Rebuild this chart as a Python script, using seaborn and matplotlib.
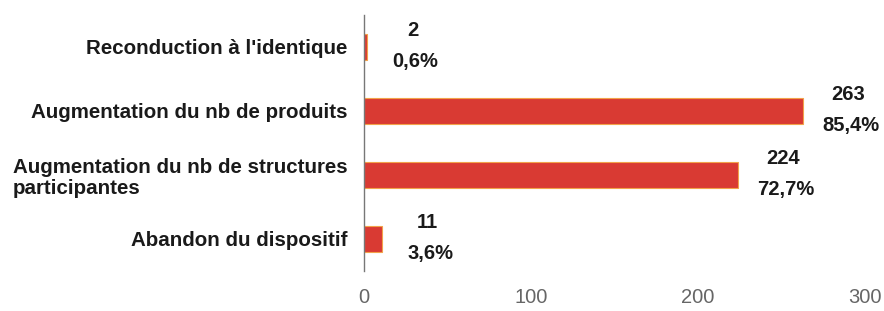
import matplotlib
matplotlib.use("Agg")
import matplotlib.pyplot as plt
import seaborn as sns
import pandas as pd

# données
categories = ["Reconduction à l'identique",
              "Augmentation du nb de produits",
              "Augmentation du nb de structures\nparticipantes",
              "Abandon du dispositif"]
valeurs = [2, 263, 224, 11]
pourcentages = ["0,6%", "85,4%", "72,7%", "3,6%"]

df = pd.DataFrame({"categorie": categories, "valeur": valeurs})

sns.set_theme(style="white")
plt.rcParams['font.family'] = ['Liberation Sans', 'DejaVu Sans']

fig = plt.figure(figsize=(8.84, 3.11), dpi=100)
ax = fig.add_axes([0.4118, 0.129, 0.567, 0.823])

sns.barplot(data=df, x="valeur", y="categorie", orient="h", ax=ax,
            color="#d93a33", edgecolor="#f2a24a", linewidth=0.8,
            width=0.4, saturation=1)

ax.set_xlim(0, 300)
ax.set_ylim(3.5, -0.5)
ax.set_xticks([0, 100, 200, 300])
ax.tick_params(axis="x", labelsize=14.5, labelcolor="#666666", length=0, pad=12)
ax.tick_params(axis="y", labelsize=14.8, length=0, pad=12)
for lab in ax.get_yticklabels():
    lab.set_fontweight("bold")
    lab.set_color("#1a1a1a")
    lab.set_multialignment("left")
    lab.set_linespacing(1.15)
ax.set_xlabel("")
ax.set_ylabel("")

for s in ["top", "right", "bottom"]:
    ax.spines[s].set_visible(False)
ax.spines["left"].set_color("#777777")
ax.spines["left"].set_linestyle((0, (1, 1)))
ax.spines["left"].set_linewidth(1.0)

# étiquettes : valeur + pourcentage à droite de la barre
for i, (v, p) in enumerate(zip(valeurs, pourcentages)):
    x = v + 27
    ax.text(x, i - 0.26, str(v), ha="center", va="center",
            fontsize=14.5, fontweight="bold", color="#1a1a1a")
    ax.text(x + 1.5, i + 0.23, p, ha="center", va="center",
            fontsize=14.5, fontweight="bold", color="#1a1a1a")

fig.savefig("out.png", dpi=100)
